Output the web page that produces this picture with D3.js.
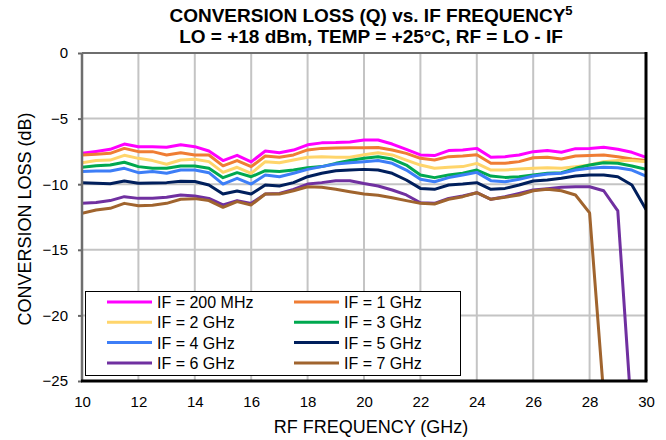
<!DOCTYPE html>
<html>
<head>
<meta charset="utf-8">
<script src="https://cdn.jsdelivr.net/npm/d3@7"></script>
<style>
  body { margin: 0; background: #fff; }
  text { font-family: "Liberation Sans", Arial, Helvetica, sans-serif; }
</style>
</head>
<body>
<svg id="chart" width="666" height="440"></svg>
<script>
// RF frequency points (GHz)
var freqs = [10, 10.5, 11, 11.5, 12, 12.5, 13, 13.5, 14, 14.5,
             15, 15.5, 16, 16.5, 17, 17.5, 18, 18.5, 19, 19.5,
             20, 20.5, 21, 21.5, 22, 22.5, 23, 23.5, 24, 24.5,
             25, 25.5, 26, 26.5, 27, 27.5, 28, 28.5, 29, 29.5, 30];

var if200mhz = [-7.65, -7.5, -7.34, -6.94, -7.14, -7.14, -7.19, -7.0, -7.14, -7.47,
                -8.2, -7.8, -8.3, -7.47, -7.6, -7.4, -7.0, -6.85, -6.83, -6.78,
                -6.63, -6.63, -6.94, -7.34, -7.77, -7.82, -7.44, -7.39, -7.27, -7.95,
                -7.9, -7.77, -7.52, -7.44, -7.57, -7.29, -7.27, -7.19, -7.34, -7.57, -7.95];
var if1ghz = [-7.77, -7.72, -7.65, -7.27, -7.52, -7.52, -7.77, -7.6, -7.77, -7.77,
              -8.6, -8.2, -8.66, -7.85, -7.95, -7.77, -7.39, -7.27, -7.24, -7.22,
              -7.22, -7.2, -7.39, -7.65, -8.03, -8.15, -7.9, -7.85, -7.75, -8.4,
              -8.4, -8.28, -7.98, -7.95, -8.08, -7.85, -7.82, -7.77, -7.9, -8.08, -8.2];
var if2ghz = [-8.36, -8.2, -8.16, -7.8, -8.03, -8.2, -8.48, -8.16, -8.1, -8.28,
              -9.1, -8.71, -9.17, -8.28, -8.36, -8.16, -7.95, -7.9, -7.95, -7.95,
              -7.75, -7.6, -7.77, -8.16, -8.54, -8.79, -8.71, -8.66, -8.41, -8.92,
              -8.92, -8.84, -8.79, -8.74, -8.79, -8.66, -8.54, -8.28, -8.2, -8.2, -8.28];
var if3ghz = [-8.71, -8.6, -8.54, -8.33, -8.66, -8.79, -8.79, -8.61, -8.61, -8.79,
              -9.5, -9.12, -9.43, -8.97, -9.04, -8.92, -8.74, -8.66, -8.41, -8.2,
              -8.03, -7.9, -8.08, -8.54, -9.3, -9.5, -9.3, -9.17, -8.92, -9.38,
              -9.48, -9.43, -9.3, -9.17, -9.12, -8.79, -8.54, -8.36, -8.41, -8.61, -8.87];
var if4ghz = [-9.04, -9.0, -9.0, -8.79, -9.12, -9.04, -9.17, -8.92, -8.92, -9.12,
              -9.99, -9.55, -9.99, -9.3, -9.43, -9.17, -8.87, -8.66, -8.46, -8.36,
              -8.28, -8.2, -8.41, -8.92, -9.63, -9.81, -9.5, -9.3, -9.1, -9.73,
              -9.81, -9.63, -9.38, -9.22, -9.17, -8.92, -8.79, -8.71, -8.74, -8.92, -9.38];
var if5ghz = [-9.88, -9.93, -9.96, -9.76, -9.93, -9.9, -9.88, -9.78, -9.8, -10.06,
              -10.75, -10.52, -10.75, -10.06, -10.14, -9.88, -9.43, -9.17, -8.97, -8.92,
              -8.87, -8.92, -9.17, -9.68, -10.32, -10.39, -10.06, -9.99, -9.88, -10.39,
              -10.32, -10.06, -9.76, -9.68, -9.55, -9.38, -9.3, -9.3, -9.43, -10.06, -11.92];
var if6ghz = [-11.46, -11.4, -11.25, -10.95, -11.08, -11.08, -11.0, -10.82, -10.9, -11.08,
              -11.58, -11.25, -11.46, -10.75, -10.7, -10.39, -9.99, -9.88, -9.73, -9.73,
              -9.95, -10.14, -10.44, -10.82, -11.41, -11.46, -11.08, -10.9, -10.65, -11.15,
              -10.95, -10.7, -10.44, -10.35, -10.24, -10.19, -10.19, -10.5, -12.04, -27.9, null];
var if7ghz = [-12.22, -11.97, -11.84, -11.46, -11.64, -11.6, -11.46, -11.15, -11.1, -11.25,
              -11.76, -11.33, -11.58, -10.75, -10.75, -10.5, -10.19, -10.24, -10.39, -10.57,
              -10.75, -10.85, -11.03, -11.25, -11.46, -11.51, -11.15, -10.95, -10.65, -11.15,
              -11.0, -10.82, -10.5, -10.39, -10.5, -10.82, -12.19, -26.1, null, null, null];

var seriesNames = ["IF = 200 MHz", "IF = 1 GHz", "IF = 2 GHz", "IF = 3 GHz",
                   "IF = 4 GHz", "IF = 5 GHz", "IF = 6 GHz", "IF = 7 GHz"];
var seriesColors = ["#ff00ff", "#ef7d34", "#ffd56b", "#00a84f",
                    "#3d7ef7", "#001f5c", "#7030a0", "#a0642e"];
var seriesValues = [if200mhz, if1ghz, if2ghz, if3ghz, if4ghz, if5ghz, if6ghz, if7ghz];

var xTicks = [10, 12, 14, 16, 18, 20, 22, 24, 26, 28, 30];
var yTicks = [0, -5, -10, -15, -20, -25];

var svg = d3.select("#chart");
// plot box (window.top is read-only, so no plain "top" here)
var pLeft = 82, pRight = 646, pTop = 53, pBottom = 381;

var x = d3.scaleLinear().domain([10, 30]).range([pLeft, pRight]);
var y = d3.scaleLinear().domain([-25, 0]).range([pBottom, pTop]);

// title
var title = svg.append("text")
  .attr("x", 371).attr("y", 22)
  .attr("text-anchor", "middle")
  .attr("font-size", "19px").attr("font-weight", "bold");
title.append("tspan").text("CONVERSION LOSS (Q) vs. IF FREQUENCY");
title.append("tspan").attr("font-size", "13px").attr("dy", -7).text("5");

svg.append("text")
  .attr("x", 371).attr("y", 43)
  .attr("text-anchor", "middle")
  .attr("font-size", "19px").attr("font-weight", "bold")
  .text("LO = +18 dBm, TEMP = +25°C, RF = LO - IF");

// grid
svg.append("g").selectAll("line")
  .data(xTicks.slice(1, -1))
  .enter().append("line")
  .attr("x1", function(d) { return x(d); })
  .attr("x2", function(d) { return x(d); })
  .attr("y1", pTop).attr("y2", pBottom)
  .attr("stroke", "#c4c4c4").attr("stroke-width", 2);

svg.append("g").selectAll("line")
  .data(yTicks.slice(1, -1))
  .enter().append("line")
  .attr("y1", function(d) { return y(d); })
  .attr("y2", function(d) { return y(d); })
  .attr("x1", pLeft).attr("x2", pRight)
  .attr("stroke", "#c4c4c4").attr("stroke-width", 2);

// axes
var yAxis = svg.append("g")
  .attr("transform", "translate(" + pLeft + ",0)")
  .call(d3.axisLeft(y).tickValues(yTicks).tickSize(4).tickPadding(10).tickFormat(d3.format("d")));
yAxis.select(".domain").remove();
yAxis.selectAll("line").attr("stroke", "#666").attr("stroke-width", 2);
yAxis.selectAll("text").attr("font-size", "15px").attr("fill", "#000")
  .style("font-family", "'Liberation Sans', Arial, sans-serif");

var xAxis = svg.append("g")
  .attr("transform", "translate(0," + pBottom + ")")
  .call(d3.axisBottom(x).tickValues(xTicks).tickSize(0).tickPadding(15).tickFormat(d3.format("d")));
xAxis.select(".domain").remove();
xAxis.selectAll("text").attr("font-size", "15px").attr("fill", "#000")
  .style("font-family", "'Liberation Sans', Arial, sans-serif");

// axis labels
svg.append("text")
  .attr("x", 371).attr("y", 433)
  .attr("text-anchor", "middle")
  .attr("font-size", "18px")
  .text("RF FREQUENCY (GHz)");

svg.append("text")
  .attr("transform", "translate(31,219) rotate(-90)")
  .attr("text-anchor", "middle")
  .attr("font-size", "18px")
  .text("CONVERSION LOSS (dB)");

// lines
svg.append("clipPath").attr("id", "plotclip")
  .append("rect")
  .attr("x", pLeft).attr("y", pTop)
  .attr("width", pRight - pLeft).attr("height", pBottom - pTop);

var line = d3.line()
  .defined(function(d) { return d[1] !== null; })
  .x(function(d) { return x(d[0]); })
  .y(function(d) { return y(d[1]); });

var lines = svg.append("g").attr("clip-path", "url(#plotclip)");
seriesValues.forEach(function(vals, i) {
  var pts = freqs.map(function(f, j) { return [f, vals[j]]; });
  lines.append("path")
    .datum(pts)
    .attr("d", line)
    .attr("fill", "none")
    .attr("stroke", seriesColors[i])
    .attr("stroke-width", 3)
    .attr("stroke-linejoin", "round");
});

// frame
svg.append("line").attr("x1", pLeft).attr("x2", pRight).attr("y1", pTop).attr("y2", pTop)
  .attr("stroke", "#6e6e6e").attr("stroke-width", 2);
svg.append("line").attr("x1", pLeft).attr("x2", pLeft).attr("y1", pTop).attr("y2", pBottom)
  .attr("stroke", "#6e6e6e").attr("stroke-width", 2.5);
svg.append("line").attr("x1", pLeft - 1).attr("x2", pRight + 1.5).attr("y1", pBottom).attr("y2", pBottom)
  .attr("stroke", "#000").attr("stroke-width", 3);
svg.append("line").attr("x1", pRight).attr("x2", pRight).attr("y1", pTop - 1).attr("y2", pBottom)
  .attr("stroke", "#000").attr("stroke-width", 3);

// legend
var legend = svg.append("g");
legend.append("rect")
  .attr("x", 85.5).attr("y", 291.5)
  .attr("width", 375).attr("height", 84)
  .attr("fill", "#fff").attr("stroke", "#000").attr("stroke-width", 1);

var item = legend.selectAll("g.item")
  .data(seriesNames)
  .enter().append("g")
  .attr("class", "item")
  .attr("transform", function(d, i) {
    var col = i % 2, row = Math.floor(i / 2);
    return "translate(" + (col === 0 ? 107 : 294) + "," + (302 + row * 20.3) + ")";
  });

item.append("line")
  .attr("x1", 0).attr("x2", 45)
  .attr("stroke", function(d, i) { return seriesColors[i]; })
  .attr("stroke-width", 3);

item.append("text")
  .attr("x", 50).attr("y", 6)
  .attr("font-size", "16px")
  .text(function(d) { return d; });
</script>
</body>
</html>
